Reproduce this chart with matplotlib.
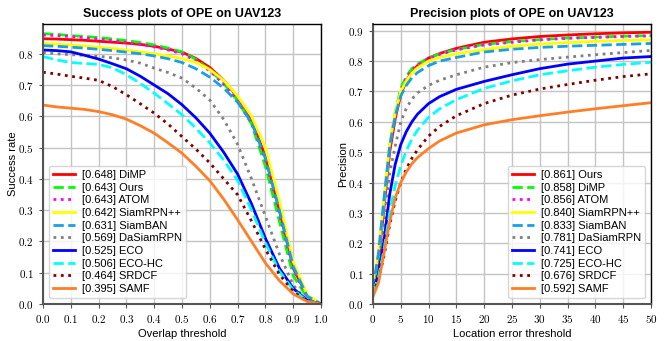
import numpy as np
import matplotlib
matplotlib.use("Agg")
import matplotlib.pyplot as plt
from matplotlib.ticker import FuncFormatter, MultipleLocator

plt.rcParams['font.family'] = ['Liberation Sans', 'DejaVu Sans']
plt.rcParams['mathtext.fontset'] = 'cm'

# --- Success plot data (overlap threshold 0..1, step 0.05)
overlap = np.linspace(0, 1, 21)
succ_names = ["DiMP", "Ours", "ATOM", "SiamRPN++", "SiamBAN",
              "DaSiamRPN", "ECO", "ECO-HC", "SRDCF", "SAMF"]
succ_scores = [0.648, 0.643, 0.643, 0.642, 0.631, 0.569, 0.525, 0.506, 0.464, 0.395]
succ_dimp = [0.848, 0.847, 0.845, 0.843, 0.840, 0.837, 0.834, 0.830, 0.824, 0.815,
             0.805, 0.785, 0.756, 0.715, 0.662, 0.590, 0.470, 0.300, 0.115, 0.025, 0.0]
succ_ours = [0.864, 0.862, 0.858, 0.855, 0.852, 0.847, 0.842, 0.836, 0.828, 0.818,
             0.806, 0.782, 0.748, 0.705, 0.650, 0.575, 0.440, 0.265, 0.090, 0.020, 0.0]
succ_atom = [0.860, 0.858, 0.855, 0.851, 0.847, 0.842, 0.836, 0.830, 0.822, 0.812,
             0.800, 0.778, 0.745, 0.703, 0.652, 0.580, 0.460, 0.290, 0.110, 0.022, 0.0]
succ_siamrpnpp = [0.833, 0.831, 0.828, 0.825, 0.821, 0.817, 0.812, 0.806, 0.800, 0.793,
                  0.785, 0.772, 0.750, 0.715, 0.665, 0.600, 0.500, 0.330, 0.135, 0.030, 0.0]
succ_siamban = [0.826, 0.824, 0.821, 0.818, 0.814, 0.810, 0.805, 0.800, 0.793, 0.784,
                0.772, 0.752, 0.725, 0.690, 0.645, 0.580, 0.465, 0.300, 0.120, 0.025, 0.0]
succ_dasiam = [0.804, 0.800, 0.797, 0.795, 0.792, 0.787, 0.780, 0.770, 0.754, 0.740,
               0.722, 0.690, 0.652, 0.590, 0.510, 0.400, 0.280, 0.160, 0.060, 0.010, 0.0]
succ_eco = [0.812, 0.810, 0.806, 0.795, 0.783, 0.768, 0.752, 0.728, 0.700, 0.672,
            0.637, 0.595, 0.546, 0.485, 0.415, 0.320, 0.210, 0.115, 0.050, 0.012, 0.0]
succ_ecohc = [0.791, 0.780, 0.772, 0.769, 0.766, 0.755, 0.733, 0.705, 0.674, 0.640,
              0.605, 0.562, 0.515, 0.460, 0.395, 0.300, 0.195, 0.105, 0.045, 0.010, 0.0]
succ_srdcf = [0.741, 0.735, 0.728, 0.722, 0.715, 0.695, 0.669, 0.640, 0.610, 0.575,
              0.535, 0.495, 0.451, 0.400, 0.349, 0.265, 0.175, 0.095, 0.040, 0.008, 0.0]
succ_samf = [0.636, 0.630, 0.626, 0.622, 0.615, 0.605, 0.591, 0.570, 0.546, 0.515,
             0.482, 0.440, 0.394, 0.335, 0.269, 0.200, 0.131, 0.075, 0.032, 0.008, 0.0]

# --- Precision plot data (location error threshold)
loc_err = [0, 1, 2, 3, 4, 5, 6, 7, 8, 10, 12, 15, 20, 25, 30, 35, 40, 45, 50]
prec_names = ["Ours", "DiMP", "ATOM", "SiamRPN++", "SiamBAN",
              "DaSiamRPN", "ECO", "ECO-HC", "SRDCF", "SAMF"]
prec_scores = [0.861, 0.858, 0.856, 0.840, 0.833, 0.781, 0.741, 0.725, 0.676, 0.592]
prec_ours = [0.04, 0.14, 0.32, 0.50, 0.61, 0.69, 0.735, 0.765, 0.785, 0.81,
             0.825, 0.842, 0.862, 0.873, 0.881, 0.886, 0.890, 0.893, 0.895]
prec_dimp = [0.04, 0.15, 0.33, 0.52, 0.63, 0.71, 0.75, 0.775, 0.79, 0.81,
             0.824, 0.838, 0.855, 0.864, 0.871, 0.876, 0.879, 0.882, 0.884]
prec_atom = [0.04, 0.15, 0.33, 0.51, 0.62, 0.70, 0.745, 0.77, 0.787, 0.808,
             0.822, 0.837, 0.853, 0.862, 0.870, 0.875, 0.878, 0.881, 0.883]
prec_siamrpnpp = [0.05, 0.17, 0.35, 0.53, 0.63, 0.70, 0.735, 0.76, 0.778, 0.80,
                  0.812, 0.824, 0.838, 0.849, 0.856, 0.861, 0.865, 0.868, 0.870]
prec_siamban = [0.05, 0.17, 0.35, 0.52, 0.62, 0.685, 0.72, 0.745, 0.762, 0.785,
                0.80, 0.812, 0.830, 0.839, 0.845, 0.849, 0.852, 0.855, 0.858]
prec_dasiam = [0.04, 0.12, 0.27, 0.43, 0.52, 0.60, 0.645, 0.675, 0.695, 0.72,
               0.737, 0.755, 0.78, 0.795, 0.805, 0.813, 0.821, 0.828, 0.835]
prec_eco = [0.04, 0.10, 0.21, 0.36, 0.46, 0.525, 0.568, 0.60, 0.625, 0.66,
            0.683, 0.707, 0.733, 0.755, 0.775, 0.79, 0.80, 0.81, 0.815]
prec_ecohc = [0.04, 0.09, 0.18, 0.30, 0.39, 0.455, 0.505, 0.543, 0.572, 0.615,
              0.643, 0.673, 0.71, 0.735, 0.755, 0.768, 0.78, 0.789, 0.796]
prec_srdcf = [0.035, 0.08, 0.16, 0.26, 0.34, 0.40, 0.445, 0.48, 0.508, 0.553,
              0.585, 0.62, 0.66, 0.688, 0.708, 0.723, 0.737, 0.749, 0.758]
prec_samf = [0.025, 0.07, 0.17, 0.27, 0.35, 0.40, 0.435, 0.462, 0.482, 0.512,
             0.537, 0.563, 0.59, 0.607, 0.62, 0.632, 0.643, 0.653, 0.663]

# --- Styles per tracker
styles = {
    "Ours":      dict(color='#ff0000', ls='-'),
    "DiMP":      dict(color='#00ff00', ls='--'),
    "ATOM":      dict(color='#ff00ff', ls=':'),
    "SiamRPN++": dict(color='#ffff00', ls='-'),
    "SiamBAN":   dict(color='#1a9ee6', ls='--'),
    "DaSiamRPN": dict(color='#808080', ls=':'),
    "ECO":       dict(color='#0000ff', ls='-'),
    "ECO-HC":    dict(color='#00ffff', ls='--'),
    "SRDCF":     dict(color='#800000', ls=':'),
    "SAMF":      dict(color='#ff7f27', ls='-'),
}
# in the success plot DiMP and Ours swap their line styles
succ_styles = dict(styles)
succ_styles["DiMP"] = styles["Ours"]
succ_styles["Ours"] = styles["DiMP"]

succ_curves = [succ_dimp, succ_ours, succ_atom, succ_siamrpnpp, succ_siamban,
               succ_dasiam, succ_eco, succ_ecohc, succ_srdcf, succ_samf]
prec_curves = [prec_ours, prec_dimp, prec_atom, prec_siamrpnpp, prec_siamban,
               prec_dasiam, prec_eco, prec_ecohc, prec_srdcf, prec_samf]

fig = plt.figure(figsize=(6.64, 3.41), dpi=100)
ax1 = fig.add_axes([0.0648, 0.1085, 0.4187, 0.821])
ax2 = fig.add_axes([0.5617, 0.1085, 0.4187, 0.821])


def style_axes(ax):
    ax.grid(True, color='#c4c4c4', linewidth=1.0)
    ax.set_axisbelow(True)
    for side in ['top', 'right']:
        ax.spines[side].set_color('black')
        ax.spines[side].set_linewidth(1.0)
    for side in ['left', 'bottom']:
        ax.spines[side].set_color('#555555')
        ax.spines[side].set_linewidth(1.5)
    ax.tick_params(labelsize=8, length=3, color='#555555')


legend_kw = dict(fontsize=8, labelspacing=0.24, handlelength=2.0,
                 handletextpad=0.6, borderpad=0.4)

# --- Left: success plot
for name, score, vals in zip(succ_names, succ_scores, succ_curves):
    ax1.plot(overlap, vals, lw=2, label=f"[{score:.3f}] {name}", **succ_styles[name])
ax1.set_xlim(0, 1)
ax1.set_ylim(0, 0.895)
ax1.xaxis.set_major_locator(MultipleLocator(0.1))
ax1.yaxis.set_major_locator(MultipleLocator(0.1))
ax1.xaxis.set_major_formatter(FuncFormatter(lambda v, p: f"${v:.1f}$"))
ax1.yaxis.set_major_formatter(FuncFormatter(lambda v, p: f"${v:.1f}$"))
style_axes(ax1)
ax1.set_title("Success plots of OPE on UAV123", fontsize=9, fontweight='bold', pad=5)
ax1.set_xlabel("Overlap threshold", fontsize=8, labelpad=3)
ax1.set_ylabel("Success rate", fontsize=8, labelpad=0)
ax1.legend(loc='lower left', **legend_kw)

# --- Right: precision plot
for name, score, vals in zip(prec_names, prec_scores, prec_curves):
    ax2.plot(loc_err, vals, lw=2, label=f"[{score:.3f}] {name}", **styles[name])
ax2.set_xlim(0, 50)
ax2.set_ylim(0, 0.922)
ax2.xaxis.set_major_locator(MultipleLocator(5))
ax2.yaxis.set_major_locator(MultipleLocator(0.1))
ax2.xaxis.set_major_formatter(FuncFormatter(lambda v, p: f"${int(round(v))}$"))
ax2.yaxis.set_major_formatter(FuncFormatter(lambda v, p: f"${v:.1f}$"))
style_axes(ax2)
ax2.set_title("Precision plots of OPE on UAV123", fontsize=9, fontweight='bold', pad=5)
ax2.set_xlabel("Location error threshold", fontsize=8, labelpad=3)
ax2.set_ylabel("Precision", fontsize=8, labelpad=0)
ax2.legend(loc='lower right', **legend_kw)

fig.savefig("out.png", dpi=100)
